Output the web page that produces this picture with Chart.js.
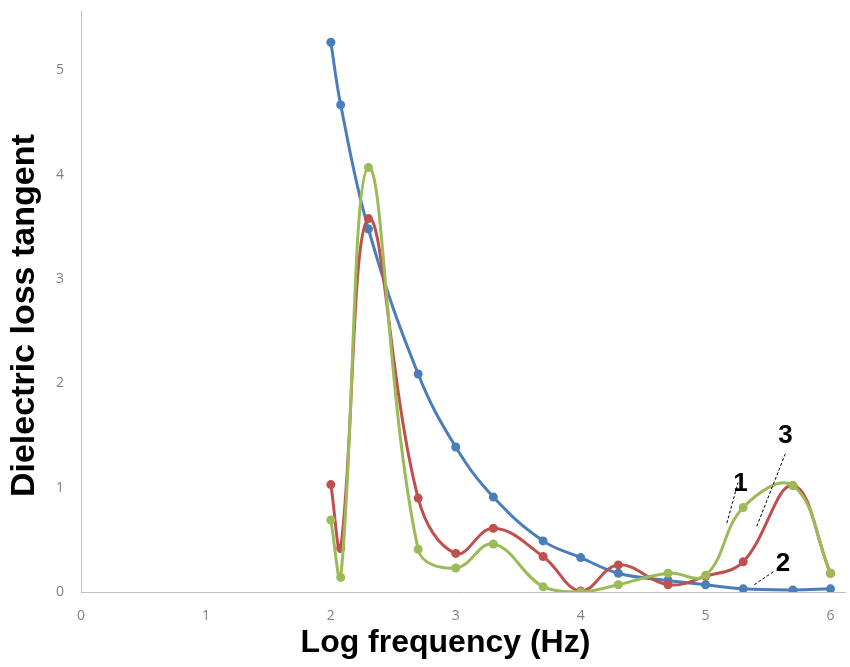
<!DOCTYPE html>
<html>
<head>
<meta charset="utf-8">
<script src="https://cdn.jsdelivr.net/npm/chart.js@4.4.1/dist/chart.umd.min.js"></script>
<style>
  html, body { margin: 0; padding: 0; background: #fff; }
  #wrap { width: 850px; height: 667px; position: relative; }
</style>
</head>
<body>
<div id="wrap"><canvas id="chart"></canvas></div>
<script>
// log10 of the measuring frequency (Hz)
const logFreq = [2, 2.079, 2.301, 2.699, 3, 3.301, 3.699, 4, 4.301, 4.699, 5, 5.301, 5.699, 6];

// dielectric loss tangent
const curve1 = [0.69, 0.14, 4.07, 0.41, 0.23, 0.46, 0.05, 0.00, 0.07, 0.18, 0.16, 0.81, 1.02, 0.18]; // green
const curve2 = [5.27, 4.67, 3.48, 2.09, 1.39, 0.91, 0.49, 0.33, 0.18, 0.11, 0.07, 0.03, 0.02, 0.03]; // blue
const curve3 = [1.03, 0.42, 3.58, 0.90, 0.37, 0.61, 0.34, 0.01, 0.26, 0.07, 0.15, 0.29, 1.02, 0.18]; // red

const xTicks = [0, 1, 2, 3, 4, 5, 6];
const yTicks = [0, 1, 2, 3, 4, 5];

// curve numbers with their leader lines (data coordinates)
const labelText = ["1", "2", "3"];
const labelAt = [[5.28, 1.04], [5.62, 0.27], [5.64, 1.50]];
const leaderFrom = [[5.17, 0.66], [5.39, 0.07], [5.41, 0.63]];
const leaderTo = [[5.26, 1.05], [5.55, 0.20], [5.64, 1.33]];

const toPoints = ys => ys.map((y, i) => ({ x: logFreq[i], y: y }));

function series(ys, color) {
    return {
        data: toPoints(ys),
        borderColor: color,
        backgroundColor: color,
        borderWidth: 3,
        pointRadius: 4.5,
        pointBorderWidth: 0,
        tension: 0.4,
        fill: false
    };
}

// ==========================
// curve number labels
// ==========================
const curveLabels = {
    id: "curveLabels",
    afterDatasetsDraw(chart) {
        const { ctx, scales: { x, y } } = chart;
        ctx.save();
        ctx.strokeStyle = "#000";
        ctx.lineWidth = 1;
        ctx.setLineDash([3, 2]);
        leaderFrom.forEach((p, i) => {
            ctx.beginPath();
            ctx.moveTo(x.getPixelForValue(p[0]), y.getPixelForValue(p[1]));
            ctx.lineTo(x.getPixelForValue(leaderTo[i][0]), y.getPixelForValue(leaderTo[i][1]));
            ctx.stroke();
        });
        ctx.setLineDash([]);
        ctx.fillStyle = "#000";
        ctx.font = "bold 26px 'Liberation Sans', Arial, sans-serif";
        ctx.textAlign = "center";
        ctx.textBaseline = "middle";
        labelText.forEach((t, i) => {
            ctx.fillText(t, x.getPixelForValue(labelAt[i][0]), y.getPixelForValue(labelAt[i][1]));
        });
        ctx.restore();
    }
};

const tickFont = { family: "'Open Sans', sans-serif", size: 14 };
const fontFamily = "'Liberation Sans', Arial, sans-serif";

new Chart(document.getElementById("chart"), {
    type: "line",
    data: {
        datasets: [
            series(curve1, "#9bbb59"),
            series(curve3, "#c0504d"),
            series(curve2, "#4a7ebb")
        ]
    },
    options: {
        responsive: true,
        maintainAspectRatio: false,
        animation: false,
        layout: { padding: { top: 11, right: 2, left: 0, bottom: 0 } },
        plugins: {
            legend: { display: false },
            tooltip: { enabled: false }
        },
        scales: {
            x: {
                type: "linear",
                min: 0,
                max: 6.12,
                afterBuildTicks: s => { s.ticks = xTicks.map(v => ({ value: v })); },
                afterFit: s => { s.height = 75; s.paddingLeft = 0; s.paddingRight = 0; },
                grid: { display: false, drawTicks: false },
                border: { color: "#bfbfbf", width: 1 },
                ticks: { color: "#808080", font: tickFont, padding: 16 },
                title: {
                    display: true,
                    // trailing spaces nudge the title left, as in the original
                    text: "Log frequency (Hz)    ",
                    color: "#000",
                    font: { family: fontFamily, size: 32, weight: "bold" },
                    padding: { top: 0, bottom: 5 }
                }
            },
            y: {
                type: "linear",
                min: 0,
                max: 5.57,
                afterBuildTicks: s => { s.ticks = yTicks.map(v => ({ value: v })); },
                afterFit: s => { s.width = 81; s.paddingTop = 0; s.paddingBottom = 0; },
                grid: { display: false, drawTicks: false },
                border: { color: "#bfbfbf", width: 1 },
                ticks: { color: "#808080", font: tickFont, padding: 17 },
                title: {
                    display: true,
                    text: "Dielectric loss tangent   ",
                    color: "#000",
                    font: { family: fontFamily, size: 34, weight: "bold" },
                    padding: { top: 4, bottom: 0 }
                }
            }
        }
    },
    plugins: [curveLabels]
});
</script>
</body>
</html>
